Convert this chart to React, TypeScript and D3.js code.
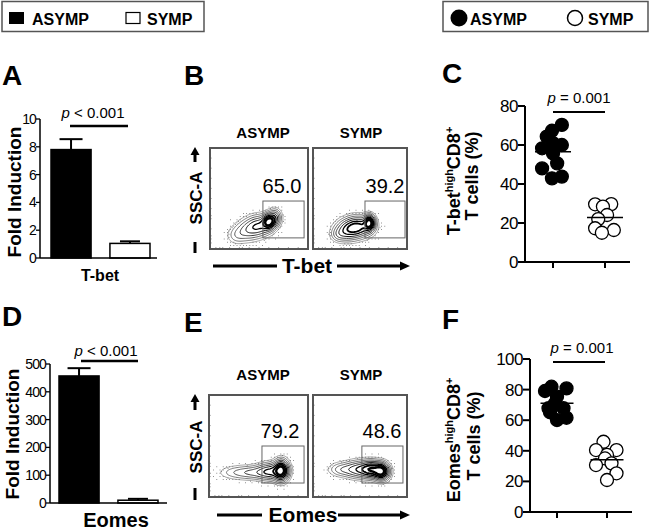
import React from "react";
import * as d3 from "d3";

const FONT = "'Liberation Sans', Arial, Helvetica, sans-serif";

const groups = ["ASYMP", "SYMP"];

// Panel A / D : fold induction
const tbetFoldMean = [7.8, 1.05];
const tbetFoldErr = [0.75, 0.15];
const tbetFoldTicks = [0, 2, 4, 6, 8, 10];
const eomesFoldMean = [457, 10];
const eomesFoldErr = [28, 5];
const eomesFoldTicks = [0, 100, 200, 300, 400, 500];

// Panel C : T-bet high CD8+ T cells (%)
const tbetPctAsymp = [70.3, 67.3, 64.3, 61, 58.3, 60, 55.7, 50.6, 48, 42.9, 43.8];
const tbetPctAsympJit = [0.17, -0.02, -0.12, 0.0, -0.21, 0.17, 0.0, 0.08, -0.21, -0.02, 0.17];
const tbetPctSymp = [29.6, 29.7, 28.4, 24.1, 22, 17.3, 16.4, 15];
const tbetPctSympJit = [-0.19, 0.12, -0.04, 0.04, -0.13, -0.19, 0.17, -0.06];
const pctTicksC = [0, 20, 40, 60, 80];

// Panel F : Eomes high CD8+ T cells (%)
const eomesPctAsymp = [81.9, 80.8, 79.1, 75.4, 71.0, 67.8, 67.8, 65.2, 61.6, 60.1];
const eomesPctAsympJit = [-0.11, 0.19, -0.24, 0.0, -0.04, -0.17, 0.13, -0.14, 0.19, 0.0];
const eomesPctSymp = [45.9, 40.5, 40.5, 37.3, 35, 30.7, 31.8, 25.3, 20.9];
const eomesPctSympJit = [-0.07, -0.22, 0.19, 0.0, -0.04, -0.22, 0.09, 0.19, 0.0];
const pctTicksF = [0, 20, 40, 60, 80, 100];

// Flow plots: density components [cx, cy, sx, sy, weight] in % of plot
const flowTbetAsymp = [[60, 27, 4, 4.5, 1.0], [50, 23, 8, 6, 0.55], [38, 18, 8, 6, 0.3], [27, 13, 6, 5, 0.12], [66, 31, 4, 5, 0.45]];
const flowTbetSymp = [[60, 26, 3.5, 4.5, 1.0], [48, 22, 9, 6, 0.8], [36, 18, 8, 6, 0.45], [27, 14, 5, 4, 0.15]];
const flowEomesAsymp = [[73, 26, 4.5, 6, 1.0], [62, 25, 8, 5, 0.5], [45, 24, 12, 4, 0.28], [25, 24, 10, 4, 0.1]];
const flowEomesSymp = [[73, 25, 5, 5, 1.0], [62, 27, 7, 5, 0.8], [48, 27, 9, 5, 0.5], [30, 27, 8, 4, 0.22]];
const gatePctTbet = ["65.0", "39.2"];
const gatePctEomes = ["79.2", "48.6"];
const flowAxisTicks = [0.06, 0.1, 0.13, 0.2, 0.3, 0.33, 0.4, 0.5, 0.6, 0.7, 0.8, 0.9];

const contourLevels = [0.04, 0.08, 0.14, 0.22, 0.32, 0.45, 0.6, 0.78];
const contourWidths = [0.6, 0.7, 0.8, 0.9, 1.0, 1.3, 1.8, 2.4];
const contourColors = ["#666", "#444", "#333", "#222", "#111", "#000", "#000", "#000"];
const bayer = [0, 8, 2, 10, 12, 4, 14, 6, 3, 11, 1, 9, 15, 7, 13, 5];

function PLabel({ x, y, text }: { x: number; y: number; text: string }) {
  const parts = text.split(" ");
  return (
    <text x={x} y={y} textAnchor="middle" fontSize={15} fontFamily={FONT}>
      <tspan fontStyle="italic">{parts[0]}</tspan>
      {" " + parts.slice(1).join(" ")}
    </text>
  );
}

function BarPanel(props: {
  axisX: number; axisRight: number; y0: number; y1: number; dmax: number; ticks: number[];
  means: number[]; errs: number[]; barRange: [number, number];
  pText: string; pX: number; pY: number; lineX: [number, number]; lineY: number;
  label: string; labelX: number; labelY: number; labelSize: number; titleX: number; titleY: number;
}) {
  const y = d3.scaleLinear().domain([0, props.dmax]).range([props.y0, props.y1]);
  const x = d3.scaleBand().domain(groups).range(props.barRange).paddingInner(0.32).paddingOuter(0);
  const bw = x.bandwidth();
  return (
    <g fontFamily={FONT}>
      {groups.map((g, i) => {
        const bx = x(g)!;
        const top = y(props.means[i]);
        const etop = y(props.means[i] + props.errs[i]);
        const cx = bx + bw / 2;
        const capHalf = i === 0 ? 11.5 : 10;
        return (
          <g key={g}>
            <line x1={cx} x2={cx} y1={top} y2={etop} stroke="#000" strokeWidth={2} />
            <line x1={cx - capHalf} x2={cx + capHalf} y1={etop} y2={etop} stroke="#000" strokeWidth={2} />
            <rect x={bx} y={top} width={bw} height={props.y0 - top}
              fill={i === 0 ? "#000" : "#fff"} stroke="#000" strokeWidth={1.5} />
          </g>
        );
      })}
      <line x1={props.axisX} x2={props.axisX} y1={props.y1} y2={props.y0} stroke="#000" strokeWidth={1.5} />
      <line x1={props.axisX} x2={props.axisRight} y1={props.y0} y2={props.y0} stroke="#000" strokeWidth={1.5} />
      {props.ticks.map((t) => (
        <g key={t}>
          <line x1={props.axisX - 4} x2={props.axisX} y1={y(t)} y2={y(t)} stroke="#000" strokeWidth={1.3} />
          <text x={props.axisX - 4} y={y(t) + 5} textAnchor="end" fontSize={14} letterSpacing={-0.9}>{t}</text>
        </g>
      ))}
      <PLabel x={props.pX} y={props.pY} text={props.pText} />
      <line x1={props.lineX[0]} x2={props.lineX[1]} y1={props.lineY} y2={props.lineY} stroke="#000" strokeWidth={2.5} />
      <text x={props.labelX} y={props.labelY} textAnchor="middle" fontSize={props.labelSize} fontWeight="bold">{props.label}</text>
      <text transform={`translate(${props.titleX},${props.titleY}) rotate(-90)`} textAnchor="middle" fontSize={19} fontWeight="bold">Fold Induction</text>
    </g>
  );
}

function DotPanel(props: {
  axisX: number; axisRight: number; y0: number; y1: number; dmax: number; ticks: number[];
  catX: [number, number]; asymp: number[]; asympJit: number[]; symp: number[]; sympJit: number[];
  meanHalf: number; pY: number; lineY: number; lineX: [number, number];
  marker: string; titleLine1X: number; titleLine1Y: number; titleLine2X: number; titleLine2Y: number;
}) {
  const y = d3.scaleLinear().domain([0, props.dmax]).range([props.y0, props.y1]);
  const x = d3.scalePoint().domain(groups).range(props.catX);
  const spacing = props.catX[1] - props.catX[0];
  const sets = [
    { g: "ASYMP", vals: props.asymp, jit: props.asympJit },
    { g: "SYMP", vals: props.symp, jit: props.sympJit },
  ];
  return (
    <g fontFamily={FONT}>
      {sets.map((s, si) => {
        const cx = x(s.g)!;
        const m = d3.mean(s.vals)!;
        return (
          <g key={s.g}>
            {s.vals.map((v, i) => (
              <circle key={i} cx={cx + s.jit[i] * spacing} cy={y(v)} r={6.5}
                fill={si === 0 ? "#000" : "#fff"} stroke="#000" strokeWidth={1.3} />
            ))}
            <line x1={cx - props.meanHalf} x2={cx + props.meanHalf} y1={y(m)} y2={y(m)} stroke="#000" strokeWidth={1.5} />
          </g>
        );
      })}
      <line x1={props.axisX} x2={props.axisX} y1={props.y1} y2={props.y0} stroke="#000" strokeWidth={2} />
      <line x1={props.axisX} x2={props.axisRight} y1={props.y0} y2={props.y0} stroke="#000" strokeWidth={2} />
      {props.ticks.map((t) => (
        <g key={t}>
          <line x1={props.axisX - 7} x2={props.axisX} y1={y(t)} y2={y(t)} stroke="#000" strokeWidth={2} />
          <text x={props.axisX - 7} y={y(t) + 6} textAnchor="end" fontSize={17} letterSpacing={-0.5}>{t}</text>
        </g>
      ))}
      {groups.map((g) => (
        <line key={g} x1={x(g)!} x2={x(g)!} y1={props.y0} y2={props.y0 + 6} stroke="#000" strokeWidth={2} />
      ))}
      <PLabel x={(props.catX[0] + props.catX[1]) / 2} y={props.pY} text="p = 0.001" />
      <line x1={props.lineX[0]} x2={props.lineX[1]} y1={props.lineY} y2={props.lineY} stroke="#000" strokeWidth={2} />
      <text transform={`translate(${props.titleLine1X},${props.titleLine1Y}) rotate(-90)`} textAnchor="middle" fontSize={18} fontWeight="bold">
        {props.marker}
        <tspan fontSize={11} dy={-7}>high</tspan>
        <tspan dy={7}>CD8</tspan>
        <tspan fontSize={11} dy={-7}>+</tspan>
      </text>
      <text transform={`translate(${props.titleLine2X},${props.titleLine2Y}) rotate(-90)`} textAnchor="middle" fontSize={18} fontWeight="bold">T cells (%)</text>
    </g>
  );
}

function FlowPlot(props: {
  id: string; x: number; y: number; w: number; h: number; comps: number[][];
  gate: [number, number, number, number]; pct: string; pctX: number; pctY: number;
}) {
  const { x, y, w, h } = props;
  const dens = (fx: number, fy: number) => {
    let s = 0;
    for (const c of props.comps) {
      const dx = (fx - c[0]) / c[2];
      const dy = (fy - c[1]) / c[3];
      s += c[4] * Math.exp(-0.5 * (dx * dx + dy * dy));
    }
    return s;
  };
  const n = 90;
  const values: number[] = new Array(n * n);
  for (let j = 0; j < n; j++) {
    for (let i = 0; i < n; i++) {
      values[j * n + i] = dens(((i + 0.5) / n) * 100, 100 - ((j + 0.5) / n) * 100);
    }
  }
  const max = d3.max(values)!;
  const contours = d3.contours().size([n, n]).thresholds(contourLevels.map((l) => l * max))(values);
  const proj = d3.geoTransform({
    point: function (px: number, py: number) {
      (this as any).stream.point(x + (px / n) * w, y + (py / n) * h);
    },
  });
  const path = d3.geoPath(proj as any);
  const gx = d3.scaleLinear().domain([0, 1]).range([x, x + w]);
  const gy = d3.scaleLinear().domain([0, 1]).range([y + h, y]);
  // ordered-dither stipple of low-density region (events outside the contours)
  const dots: [number, number][] = [];
  const step = 1.6;
  let k = 0;
  for (let py = y + 1; py < y + h - 1; py += step) {
    let m = 0;
    for (let px = x + 1; px < x + w - 1; px += step) {
      const rel = dens(((px - x) / w) * 100, ((y + h - py) / h) * 100) / max;
      if (rel > 0.004 && rel < 0.05) {
        const p = Math.min(0.45, rel * 9);
        if (p * 16 > bayer[(k % 4) * 4 + (m % 4)]) dots.push([px, py]);
      }
      m++;
    }
    k++;
  }
  const [g0, g1, g2, g3] = props.gate;
  return (
    <g>
      <clipPath id={props.id}>
        <rect x={x} y={y} width={w} height={h} />
      </clipPath>
      <rect x={x} y={y} width={w} height={h} fill="#fff" />
      <g clipPath={`url(#${props.id})`}>
        {dots.map((d, i) => (
          <rect key={i} x={d[0]} y={d[1]} width={0.8} height={0.8} fill="#555" />
        ))}
        {contours.map((c, i) => (
          <path key={i} d={path(c as any) || ""} fill="none" stroke={contourColors[i]}
            strokeWidth={contourWidths[i]} />
        ))}
      </g>
      {flowAxisTicks.map((t, i) => (
        <g key={i}>
          <line x1={gx(t)} x2={gx(t)} y1={y + h} y2={y + h - 2} stroke="#888" strokeWidth={0.8} />
          <line x1={x} x2={x + 2} y1={gy(t)} y2={gy(t)} stroke="#aaa" strokeWidth={0.8} />
        </g>
      ))}
      <rect x={gx(g0)} y={gy(g3)} width={gx(g1) - gx(g0)} height={gy(g2) - gy(g3)} fill="none" stroke="#666" strokeWidth={1} />
      <rect x={x} y={y} width={w} height={h} fill="none" stroke="#555" strokeWidth={2} />
      <text x={props.pctX} y={props.pctY} textAnchor="middle" fontSize={20} fontFamily={FONT}>{props.pct}</text>
    </g>
  );
}

function FlowAxes(props: { marker: string; top: number; leftBar: [number, number]; markerX: number; rightArrow: [number, number]; axisY: number;
  sscY: number; arrowTop: [number, number]; dash: [number, number] }) {
  const [ax0, ax1] = props.rightArrow;
  return (
    <g fontFamily={FONT}>
      <text x={263} y={props.top} textAnchor="middle" fontSize={15} fontWeight="bold">ASYMP</text>
      <text x={361} y={props.top} textAnchor="middle" fontSize={15} fontWeight="bold">SYMP</text>
      <line x1={props.leftBar[0]} x2={props.leftBar[1]} y1={props.axisY} y2={props.axisY} stroke="#000" strokeWidth={3} />
      <text x={props.markerX} y={props.axisY + 7} textAnchor="middle" fontSize={21} fontWeight="bold">{props.marker}</text>
      <line x1={ax0} x2={ax1 - 8} y1={props.axisY} y2={props.axisY} stroke="#000" strokeWidth={3} />
      <path d={`M${ax1},${props.axisY} L${ax1 - 10},${props.axisY - 4.5} L${ax1 - 10},${props.axisY + 4.5} Z`} fill="#000" />
      <text transform={`translate(202,${props.sscY}) rotate(-90)`} textAnchor="middle" fontSize={17} fontWeight="bold">SSC-A</text>
      <line x1={195} x2={195} y1={props.arrowTop[1]} y2={props.arrowTop[0] + 6} stroke="#000" strokeWidth={3} />
      <path d={`M195,${props.arrowTop[0]} L190.5,${props.arrowTop[0] + 8} L199.5,${props.arrowTop[0] + 8} Z`} fill="#000" />
      <line x1={195} x2={195} y1={props.dash[0]} y2={props.dash[1]} stroke="#000" strokeWidth={3} />
    </g>
  );
}

export default function App() {
  return (
    <svg width={650} height={531} viewBox="0 0 650 531"
      style={{ position: "absolute", left: 0, top: 0, background: "#fff" }} fontFamily={FONT}>
      <rect x={0} y={0} width={650} height={531} fill="#fff" />
      {/* Legend left */}
      <g>
        <rect x={2} y={1.5} width={202} height={30} fill="#fff" stroke="#555" strokeWidth={1.5} />
        <rect x={9} y={12} width={15} height={12} fill="#000" />
        <text x={32} y={24.5} fontSize={16} fontWeight="bold">ASYMP</text>
        <rect x={126} y={12.5} width={14} height={11} fill="#fff" stroke="#000" strokeWidth={1.2} />
        <text x={147} y={24.5} fontSize={16} fontWeight="bold">SYMP</text>
      </g>
      {/* Legend right */}
      <g>
        <rect x={443} y={1.5} width={205} height={30} fill="#fff" stroke="#555" strokeWidth={1.5} />
        <circle cx={459} cy={18} r={8.5} fill="#000" />
        <text x={470} y={24.5} fontSize={16} fontWeight="bold">ASYMP</text>
        <circle cx={575} cy={18} r={7.5} fill="#fff" stroke="#000" strokeWidth={1.5} />
        <text x={588} y={24.5} fontSize={16} fontWeight="bold">SYMP</text>
      </g>

      {/* Panel letters */}
      {[["A", 2, 85], ["B", 184, 85], ["C", 442, 83], ["D", 2, 326], ["E", 184, 332], ["F", 442, 329]].map(([t, x, y]) => (
        <text key={t as string} x={x as number} y={y as number} fontSize={28} fontWeight="bold">{t}</text>
      ))}

      <BarPanel axisX={40} axisRight={157} y0={258} y1={119} dmax={10} ticks={tbetFoldTicks}
        means={tbetFoldMean} errs={tbetFoldErr} barRange={[51, 150]}
        pText="p < 0.001" pX={93} pY={118} lineX={[70, 128]} lineY={126}
        label="T-bet" labelX={100} labelY={281} labelSize={16} titleX={21} titleY={192} />
      <BarPanel axisX={50} axisRight={167} y0={503} y1={364} dmax={500} ticks={eomesFoldTicks}
        means={eomesFoldMean} errs={eomesFoldErr} barRange={[59, 158]}
        pText="p < 0.001" pX={106} pY={356} lineX={[81, 138]} lineY={361}
        label="Eomes" labelX={116} labelY={527} labelSize={20} titleX={19} titleY={434} />

      <FlowAxes marker="T-bet" top={138} leftBar={[213, 277]} markerX={307} rightArrow={[337, 410]} axisY={266}
        sscY={198} arrowTop={[147, 162]} dash={[242, 253]} />
      <FlowPlot id="fb1" x={210} y={148} w={98} h={101} comps={flowTbetAsymp} gate={[0.54, 0.96, 0.11, 0.475]}
        pct={gatePctTbet[0]} pctX={282} pctY={193} />
      <FlowPlot id="fb2" x={313} y={148} w={94} h={101} comps={flowTbetSymp} gate={[0.553, 0.979, 0.11, 0.475]}
        pct={gatePctTbet[1]} pctX={385} pctY={193} />

      <FlowAxes marker="Eomes" top={380} leftBar={[217, 262]} markerX={303} rightArrow={[338, 410]} axisY={515}
        sscY={447} arrowTop={[394, 410]} dash={[488, 500]} />
      <FlowPlot id="fe1" x={209} y={395} w={99} h={102} comps={flowEomesAsymp} gate={[0.535, 0.96, 0.137, 0.5]}
        pct={gatePctEomes[0]} pctX={280} pctY={438} />
      <FlowPlot id="fe2" x={313} y={395} w={94} h={102} comps={flowEomesSymp} gate={[0.52, 0.957, 0.137, 0.5]}
        pct={gatePctEomes[1]} pctX={382} pctY={438} />

      <DotPanel axisX={525} axisRight={630} y0={262} y1={106} dmax={80} ticks={pctTicksC} catX={[553, 605]}
        asymp={tbetPctAsymp} asympJit={tbetPctAsympJit} symp={tbetPctSymp} sympJit={tbetPctSympJit}
        meanHalf={18} pY={103} lineY={112} lineX={[553, 605]} marker="T-bet"
        titleLine1X={460} titleLine1Y={181} titleLine2X={478} titleLine2Y={176} />
      <DotPanel axisX={530} axisRight={632} y0={512} y1={359} dmax={100} ticks={pctTicksF} catX={[557, 607]}
        asymp={eomesPctAsymp} asympJit={eomesPctAsympJit} symp={eomesPctSymp} sympJit={eomesPctSympJit}
        meanHalf={16.5} pY={353} lineY={362} lineX={[553, 605]} marker="Eomes"
        titleLine1X={460} titleLine1Y={440} titleLine2X={480} titleLine2Y={436} />
    </svg>
  );
}
